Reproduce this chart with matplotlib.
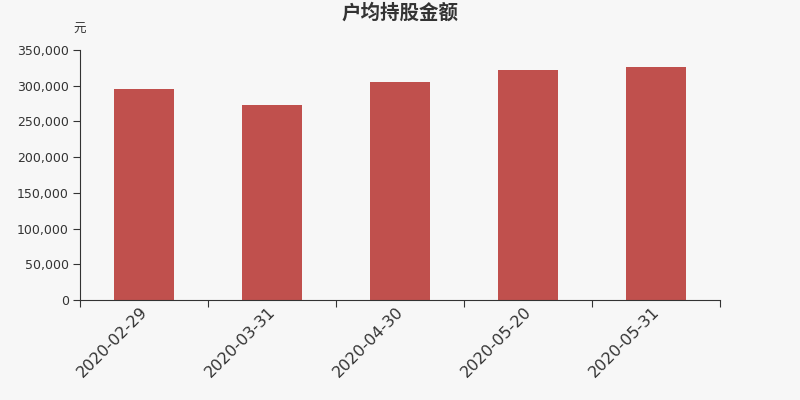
import matplotlib
matplotlib.use("Agg")
import matplotlib.pyplot as plt
from matplotlib.ticker import FuncFormatter, FixedLocator
import numpy as np

plt.rcParams["font.family"] = ["DejaVu Sans", "Noto Sans CJK SC"]

dates = ["2020-02-29", "2020-03-31", "2020-04-30", "2020-05-20", "2020-05-31"]
amounts = [295400, 272600, 304800, 321500, 326200]
yticks = [0, 50000, 100000, 150000, 200000, 250000, 300000, 350000]

bg = "#f7f7f7"
fig = plt.figure(figsize=(8, 4), dpi=100, facecolor=bg)
ax = fig.add_axes([0.1, 0.25, 0.8, 0.625], facecolor=bg)

x = np.arange(len(dates))
ax.bar(x, amounts, width=0.47, color="#c0504d", zorder=2)

ax.set_xlim(-0.5, len(dates) - 0.5)
ax.set_ylim(0, 350000)
ax.set_yticks(yticks)
ax.yaxis.set_major_formatter(FuncFormatter(lambda v, p: f"{int(v):,}"))

# ticks at category boundaries, labels under bar centres
ax.xaxis.set_major_locator(FixedLocator(np.arange(-0.5, len(dates), 1.0)))
ax.xaxis.set_major_formatter(FuncFormatter(lambda v, p: ""))
ax.xaxis.set_minor_locator(FixedLocator(x - 0.03))
ax.set_xticklabels(dates, minor=True, rotation=45, ha="right", va="top",
                   rotation_mode="anchor", fontsize=11.5, color="#333333")
ax.tick_params(axis="x", which="minor", length=0, pad=3)
ax.tick_params(axis="x", which="major", length=5, color="#333333")
ax.tick_params(axis="y", length=5, color="#333333", labelsize=9, labelcolor="#333333", pad=3)

for s in ["top", "right"]:
    ax.spines[s].set_visible(False)
for s in ["left", "bottom"]:
    ax.spines[s].set_color("#333333")

fig.text(0.5, 0.967, "户均持股金额", ha="center", va="center", fontsize=14,
         fontweight="bold", color="#333333")
fig.text(0.099, 0.927, "元", ha="center", va="center", fontsize=9, color="#333333")

fig.savefig("out.png", dpi=100, facecolor=bg)
